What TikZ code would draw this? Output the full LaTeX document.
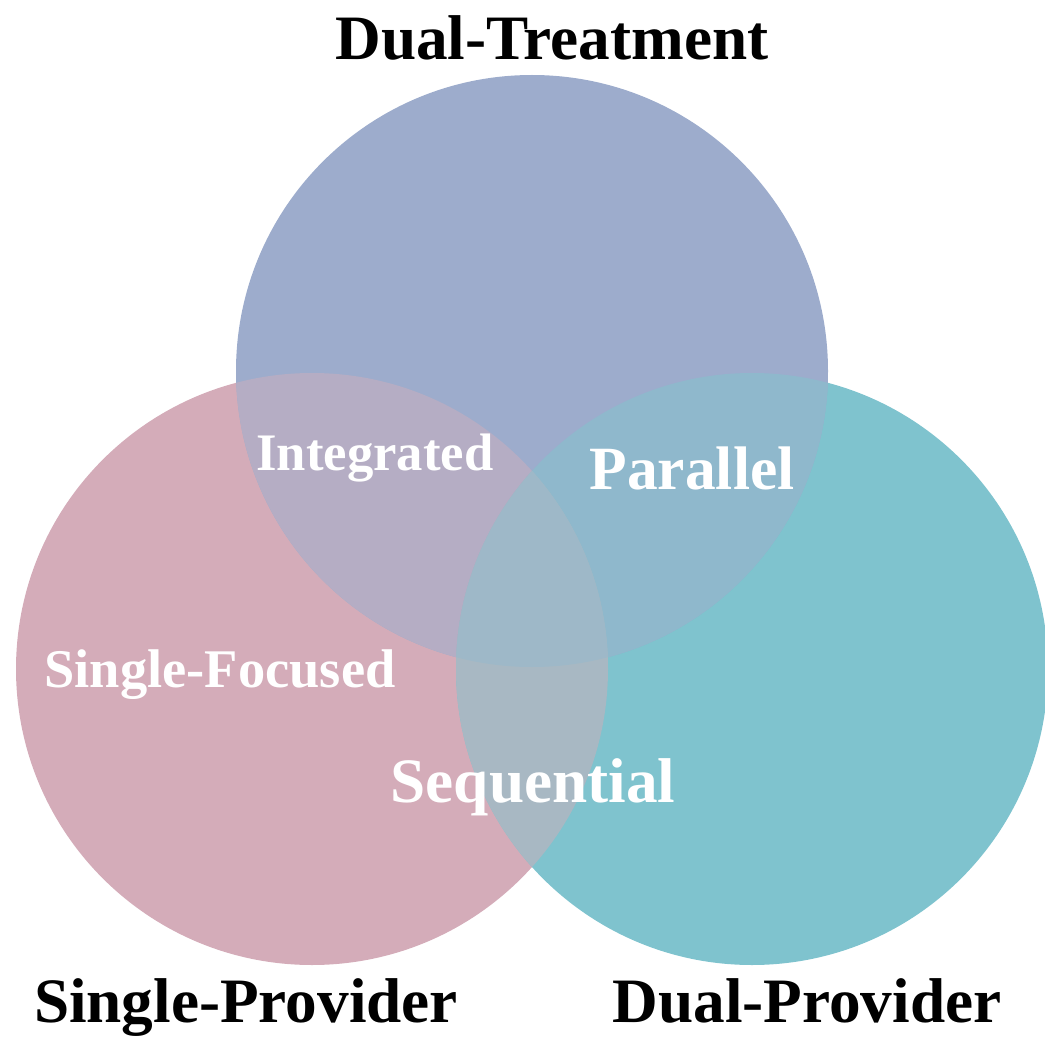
\documentclass[tikz,border=0pt]{standalone}
\usepackage{fontspec}
\setmainfont{Liberation Serif}
\usepackage{xcolor}
\usepackage{tikz}

\definecolor{treatcol}{RGB}{157,172,204}
\definecolor{singlecol}{RGB}{212,172,185}
\definecolor{dualcol}{RGB}{127,195,206}
\definecolor{intcol}{RGB}{181,173,196}
\definecolor{parcol}{RGB}{143,184,204}
\definecolor{seqcol}{RGB}{168,184,195}
\definecolor{midcol}{RGB}{158,184,200}
\newcommand{\fsz}[1]{\fontsize{#1}{#1}\selectfont\bfseries}

\begin{document}
\begin{tikzpicture}[x=0.02cm, y=-0.02cm,
    title/.style={anchor=base, inner sep=0pt, font=\fsz{36}},
    zone/.style={anchor=base, inner sep=0pt, text=white}]
      \useasboundingbox (0,0) rectangle (1045,1037);
      \def\r{296}
      \coordinate (T) at (532,371);
      \coordinate (S) at (312,669);
      \coordinate (D) at (752,669);
      % plain circles
      \foreach \c\col in {S/singlecol, D/dualcol, T/treatcol} {
        \fill[\col] (\c) circle (\r);
      }
      % pairwise overlaps
      \foreach \a\b\col in {S/T/intcol, T/D/parcol, S/D/seqcol} {
        \begin{scope}
          \clip (\a) circle (\r);
          \fill[\col] (\b) circle (\r);
        \end{scope}
      }
      % all three
      \begin{scope}
        \clip (S) circle (\r);
        \clip (D) circle (\r);
        \fill[midcol] (T) circle (\r);
      \end{scope}
      % labels
      \node[title] (dt) at (552,60) {Dual-Treatment};
      \node[title] (sp) at (246,1022) {Single-Provider};
      \node[title] (dp) at (807,1022) {Dual-Provider};
      \node[zone, font=\fsz{30}] (int) at (375,470) {Integrated};
      \node[zone, font=\fsz{35}] (par) at (692,489) {Parallel};
      \node[zone, font=\fsz{31}] (sf) at (220,687) {Single-Focused};
      \node[zone, font=\fsz{36}] (seq) at (533,802) {Sequential};
    \end{tikzpicture}
\end{document}
